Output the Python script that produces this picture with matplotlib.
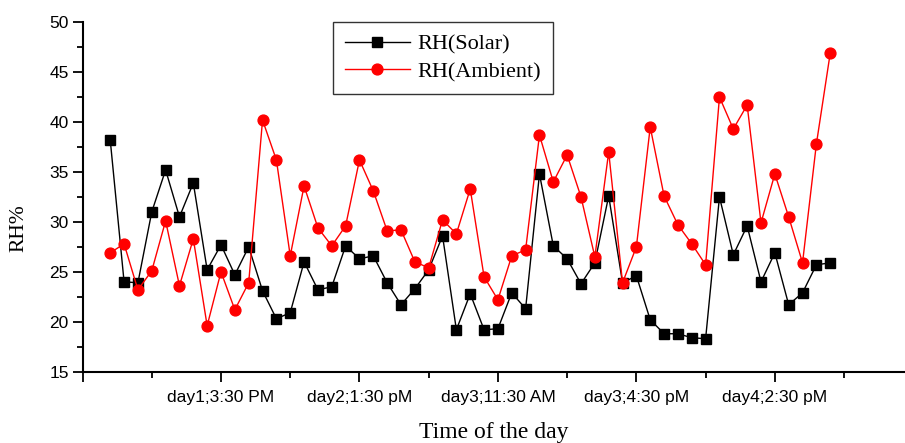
import matplotlib
matplotlib.use("Agg")
import matplotlib.pyplot as plt
from matplotlib.ticker import MultipleLocator, FixedLocator

# Data (index positions along the time axis)
x_index = list(range(2, 55))
rh_solar = [38.2, 24.0, 23.9, 31.0, 35.2, 30.5, 33.9, 25.2, 27.7, 24.7,
            27.5, 23.1, 20.3, 20.9, 26.0, 23.2, 23.5, 27.6, 26.3, 26.6,
            23.9, 21.7, 23.3, 25.2, 28.6, 19.2, 22.8, 19.2, 19.3, 22.9,
            21.3, 34.8, 27.6, 26.3, 23.8, 25.9, 32.6, 23.9, 24.6, 20.2,
            18.8, 18.8, 18.4, 18.3, 32.5, 26.7, 29.6, 24.0, 26.9, 21.7,
            22.9, 25.7, 25.9]
rh_ambient = [26.9, 27.8, 23.2, 25.1, 30.1, 23.6, 28.3, 19.6, 25.0, 21.2,
              23.9, 40.2, 36.2, 26.6, 33.6, 29.4, 27.6, 29.6, 36.2, 33.1,
              29.1, 29.2, 26.0, 25.4, 30.2, 28.8, 33.3, 24.5, 22.2, 26.6,
              27.2, 38.7, 34.0, 36.7, 32.5, 26.5, 37.0, 23.9, 27.5, 39.5,
              32.6, 29.7, 27.8, 25.7, 42.5, 39.3, 41.7, 29.9, 34.8, 30.5,
              25.9, 37.8, 46.9]
tick_positions = [10, 20, 30, 40, 50]
tick_labels = ["day1;3:30 PM", "day2;1:30 pM", "day3;11:30 AM",
               "day3;4:30 pM", "day4;2:30 pM"]

fig = plt.figure(figsize=(9.05, 4.43), dpi=100)
ax = fig.add_axes([0.0912, 0.161, 0.9088, 0.789])

ax.plot(x_index, rh_solar, color="black", lw=1.0, marker="s",
        markersize=6.8, markerfacecolor="black", markeredgecolor="black",
        label="RH(Solar)")
ax.plot(x_index, rh_ambient, color="red", lw=1.0, marker="o",
        markersize=7.8, markerfacecolor="red", markeredgecolor="red",
        label="RH(Ambient)")

ax.set_xlim(0, 59.4)
ax.set_ylim(15, 50)

for s in ["top", "right"]:
    ax.spines[s].set_visible(False)
for s in ["left", "bottom"]:
    ax.spines[s].set_linewidth(1.5)

ax.yaxis.set_major_locator(MultipleLocator(5))
ax.yaxis.set_minor_locator(MultipleLocator(2.5))
ax.xaxis.set_major_locator(FixedLocator([0] + tick_positions))
ax.xaxis.set_minor_locator(MultipleLocator(5))
ax.set_xticklabels([""] + tick_labels)

ax.tick_params(axis="both", which="major", direction="out", length=7,
               width=1.3, labelsize=12.5)
ax.tick_params(axis="both", which="minor", direction="out", length=4,
               width=1.3)
ax.tick_params(axis="x", which="major", pad=6)
ax.tick_params(axis="y", which="major", pad=3)
for lbl in ax.get_xticklabels() + ax.get_yticklabels():
    lbl.set_fontfamily("Liberation Sans")

ax.set_xlabel("Time of the day", fontfamily="Liberation Serif", fontsize=17)
ax.xaxis.label.set_va("baseline")
ax.xaxis.set_label_coords(0.5, -0.19)
ax.set_ylabel("RH%", fontfamily="Liberation Serif", fontsize=15.5)
ax.yaxis.set_label_coords(-0.066, 0.41)

leg = fig.legend(handles=ax.get_lines(), loc="upper left",
                 bbox_to_anchor=(333 / 905, 1 - 22 / 443),
                 prop={"family": "Liberation Serif", "size": 16},
                 frameon=True, fancybox=False, edgecolor="black",
                 handlelength=2.9, borderpad=0.55, labelspacing=0.3,
                 handletextpad=0.35, borderaxespad=0)
leg._legend_box.align = "left"
leg.get_frame().set_linewidth(1.0)
# add extra horizontal padding to match reference box width
for t in leg.get_texts():
    t.set_text(t.get_text())

fig.savefig("out.png", dpi=100)
